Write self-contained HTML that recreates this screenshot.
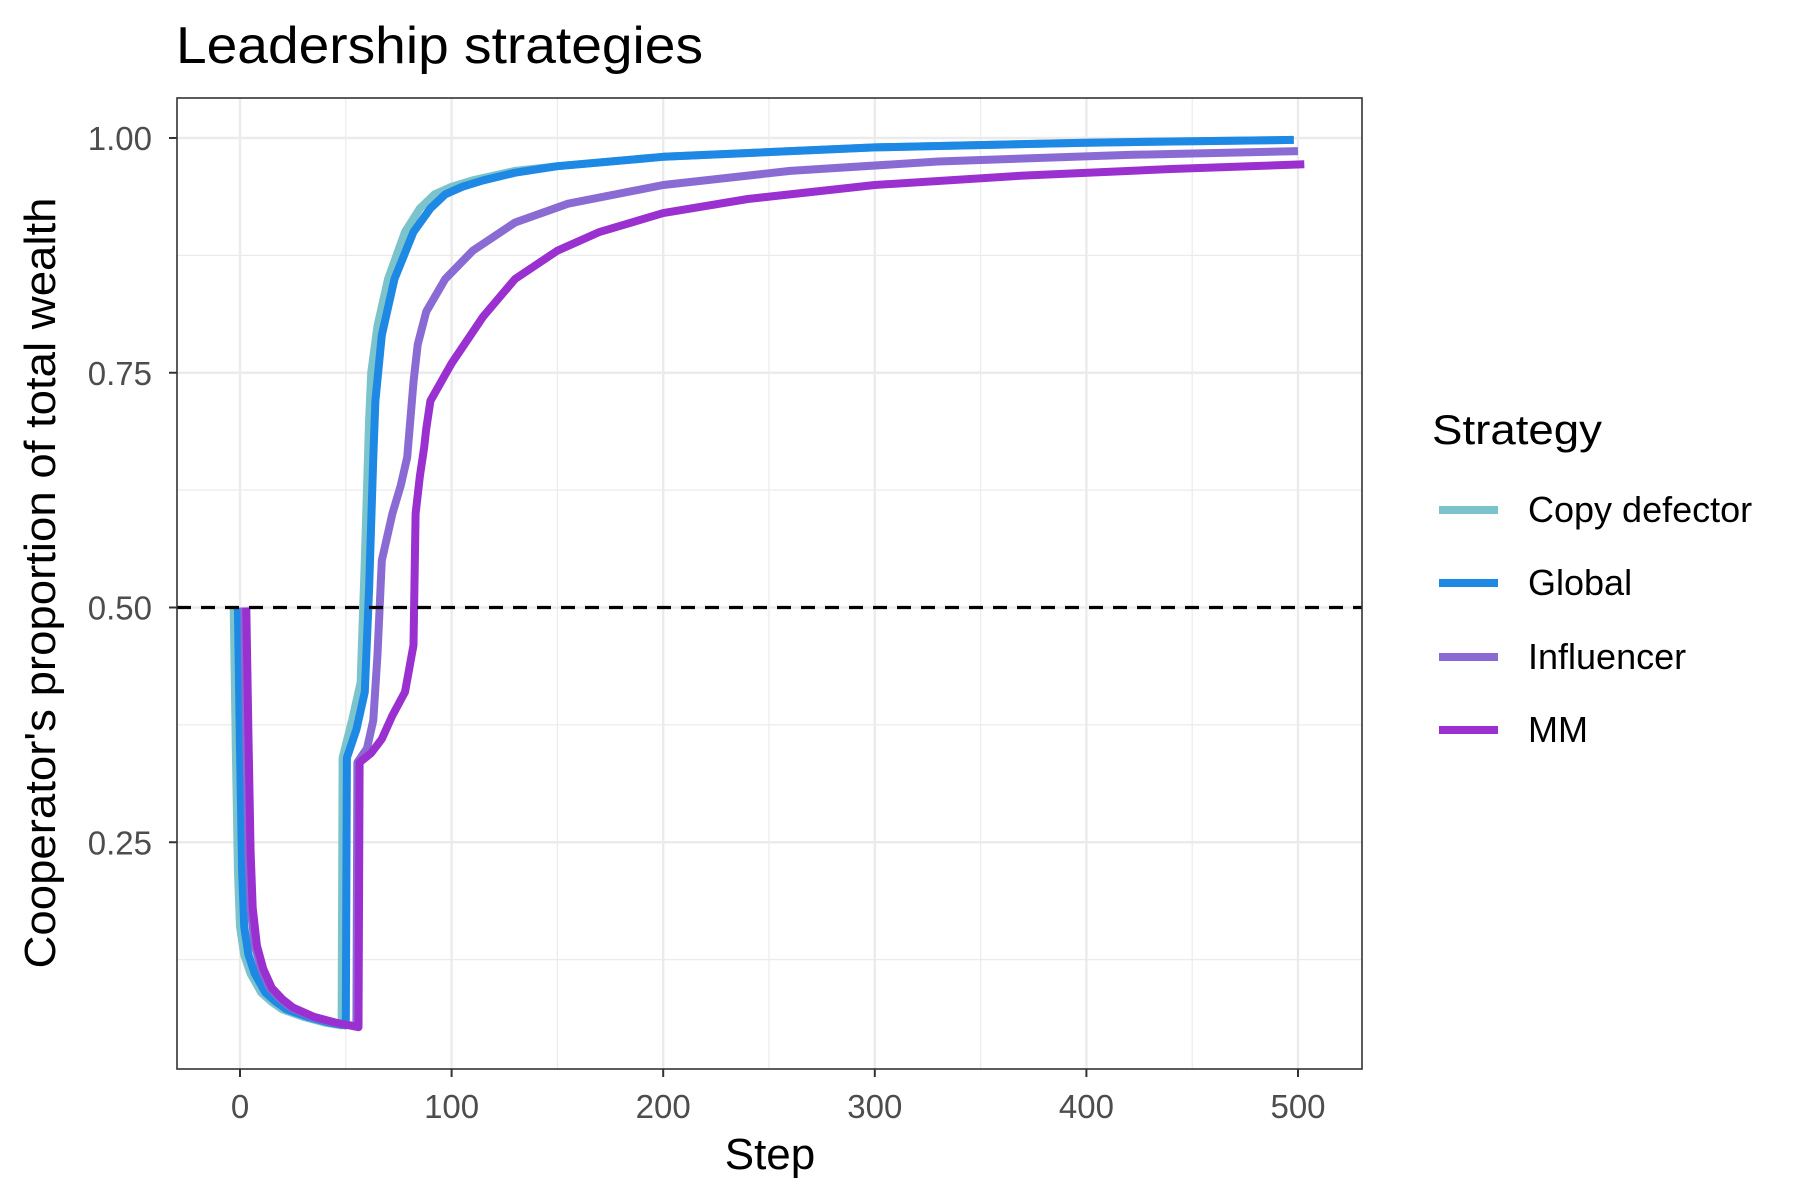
<!DOCTYPE html>
<html><head><meta charset="utf-8"><style>
html,body{margin:0;padding:0;background:#fff;}
svg{display:block;font-family:"Liberation Sans",Arial,sans-serif;}
</style></head><body>
<svg id="chart" width="1800" height="1200" viewBox="0 0 1800 1200">
<text x="176" y="63" font-size="52" textLength="527" lengthAdjust="spacingAndGlyphs" fill="#000">Leadership strategies</text>
<g id="grid"></g>
<g id="lines"></g>
<g id="axes"></g>
<text x="770" y="1169" font-size="44" text-anchor="middle" fill="#000">Step</text>
<text transform="translate(55,583) rotate(-90)" font-size="44" text-anchor="middle" textLength="771" lengthAdjust="spacingAndGlyphs" fill="#000">Cooperator's proportion of total wealth</text>
<g id="legend">
<text x="1432" y="444" font-size="42" textLength="170" lengthAdjust="spacingAndGlyphs" fill="#000">Strategy</text>
</g>
</svg>
<script>
const seriesNames = ["Copy defector","Global","Influencer","MM"];
const seriesColors = ["#7cc4cc","#1e88e5","#8a6bd3","#9b30d0"];
const xTicks = [0,100,200,300,400,500];
const yTicks = [0.25,0.5,0.75,1.0];
const yTickLabels = ["0.25","0.50","0.75","1.00"];
const copySteps = [-3,-2,-1,0,2,5,10,15,20,30,40,48,48.5,53,57,59,61,62,65,70,78,85,92,100,110,130,150,200,300,400,498];
const copyVals = [0.5,0.35,0.22,0.16,0.13,0.11,0.09,0.08,0.072,0.064,0.058,0.055,0.34,0.38,0.42,0.55,0.7,0.75,0.8,0.85,0.9,0.925,0.94,0.948,0.955,0.965,0.97,0.98,0.99,0.995,0.998];
const globalSteps = [-1,0,1,2,4,7,12,17,22,32,42,50,50.5,55,59,61,63,64,67,73,82,90,97,105,115,130,150,200,300,400,498];
const globalVals = [0.5,0.35,0.22,0.16,0.13,0.11,0.09,0.08,0.072,0.064,0.058,0.055,0.34,0.37,0.41,0.52,0.66,0.72,0.79,0.85,0.9,0.925,0.94,0.948,0.955,0.963,0.97,0.98,0.99,0.995,0.998];
const inflSteps = [2,3,4,5,7,10,14,19,24,34,44,55,55.5,60,63,65,67,72,76,79,82,84,88,97,110,130,155,200,260,330,420,500];
const inflVals = [0.5,0.36,0.24,0.18,0.14,0.115,0.095,0.083,0.074,0.064,0.058,0.054,0.335,0.35,0.38,0.45,0.55,0.6,0.63,0.66,0.74,0.78,0.815,0.85,0.88,0.91,0.93,0.95,0.965,0.975,0.982,0.986];
const mmSteps = [3,4,5,6,8,11,15,20,25,35,45,56,56.5,62,67,72,78,82,83,85,87,88,90,95,100,115,130,150,170,200,240,300,370,440,503];
const mmVals = [0.5,0.36,0.24,0.18,0.14,0.115,0.095,0.083,0.074,0.064,0.058,0.053,0.335,0.345,0.36,0.385,0.41,0.46,0.6,0.64,0.67,0.69,0.72,0.74,0.76,0.81,0.85,0.88,0.9,0.92,0.935,0.95,0.96,0.967,0.972];
const allSteps = [copySteps,globalSteps,inflSteps,mmSteps];
const allVals = [copyVals,globalVals,inflVals,mmVals];

const NS="http://www.w3.org/2000/svg";
const PL=177,PR=1362,PT=98,PB=1069;
function xs(v){return 240+v*(1298-240)/500;}
function ys(v){return 1077-v*939;}
function mk(tag,attrs,parent){const e=document.createElementNS(NS,tag);for(const k in attrs)e.setAttribute(k,attrs[k]);parent.appendChild(e);return e;}
const grid=document.getElementById('grid'),lines=document.getElementById('lines'),axes=document.getElementById('axes'),legend=document.getElementById('legend');
mk('rect',{x:PL,y:PT,width:PR-PL,height:PB-PT,fill:'#fff'},grid);
for(let i=0;i<xTicks.length;i++){
  const mv=xTicks[i]+50;
  if(xs(mv)<PR){const m=mk('line',{x1:xs(mv),x2:xs(mv),y1:PT,y2:PB,stroke:'#ebebeb','stroke-width':1.2},grid);
  
  }
  const g=mk('line',{x1:xs(xTicks[i]),x2:xs(xTicks[i]),y1:PT,y2:PB,stroke:'#ebebeb','stroke-width':2.4},grid);
  
  
}
for(let i=0;i<yTicks.length;i++){
  const mv=yTicks[i]-0.125;
  const m=mk('line',{x1:PL,x2:PR,y1:ys(mv),y2:ys(mv),stroke:'#ebebeb','stroke-width':1.2},grid);
  
  
  const g=mk('line',{x1:PL,x2:PR,y1:ys(yTicks[i]),y2:ys(yTicks[i]),stroke:'#ebebeb','stroke-width':2.4},grid);
  
  
}
for(let s=0;s<seriesNames.length;s++){
  const pts=allSteps[s].map((st,i)=>xs(st).toFixed(1)+','+ys(allVals[s][i]).toFixed(1)).join(' ');
  const p=mk('polyline',{points:pts,fill:'none',stroke:seriesColors[s],'stroke-width':8,'stroke-linejoin':'round'},lines);
  
  
}
const ref=mk('line',{x1:PL,x2:PR,y1:ys(0.5),y2:ys(0.5),stroke:'#000','stroke-width':3.2,'stroke-dasharray':'14 10'},lines);


const border=mk('rect',{x:PL,y:PT,width:PR-PL,height:PB-PT,fill:'none',stroke:'#333','stroke-width':1.6},axes);


for(let i=0;i<xTicks.length;i++){
  const x=xs(xTicks[i]);
  mk('line',{x1:x,x2:x,y1:PB,y2:PB+8,stroke:'#333','stroke-width':2},axes);
  const t=mk('text',{x:x,y:1118,'font-size':33,'text-anchor':'middle',fill:'#4d4d4d'},axes);
  t.textContent=String(xTicks[i]);
  
  
}
for(let i=0;i<yTicks.length;i++){
  const y=ys(yTicks[i]);
  mk('line',{x1:PL-8,x2:PL,y1:y,y2:y,stroke:'#333','stroke-width':2},axes);
  const t=mk('text',{x:152,y:y+12,'font-size':33,'text-anchor':'end',fill:'#4d4d4d'},axes);
  t.textContent=yTickLabels[i];
  
  
}
const legY=[510,583,657,730];
for(let s=0;s<seriesNames.length;s++){
  const k=mk('line',{x1:1439,x2:1498,y1:legY[s],y2:legY[s],stroke:seriesColors[s],'stroke-width':8},legend);
  
  
  const t=mk('text',{x:1528,y:legY[s]+12,'font-size':36,fill:'#000'},legend);
  t.textContent=seriesNames[s];
  
  
}
</script>
</body></html>
